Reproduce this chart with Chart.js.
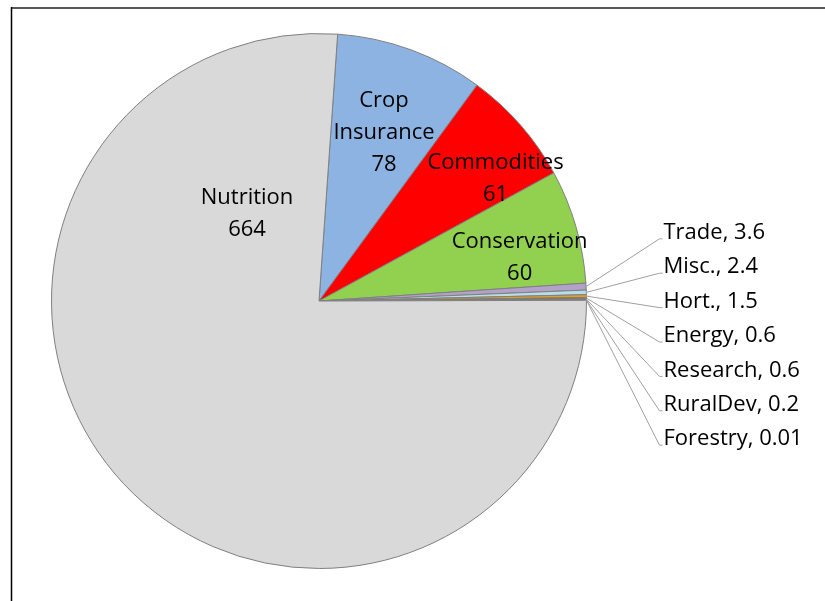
<!DOCTYPE html>
<html>
<head>
<meta charset="utf-8">
<script src="https://cdn.jsdelivr.net/npm/chart.js@4"></script>
<style>
  html, body { margin: 0; padding: 0; background: #fff; }
  #wrap { width: 825px; height: 601px; position: relative; }
</style>
</head>
<body>
<div id="wrap"><canvas id="camembert"></canvas></div>
<script>
// --- donnees ---
const categories = ['Crop Insurance', 'Commodities', 'Conservation', 'Trade', 'Misc.', 'Hort.', 'Energy', 'Research', 'RuralDev', 'Forestry', 'Nutrition'];
const values = [78, 61, 60, 3.6, 2.4, 1.5, 0.6, 0.6, 0.2, 0.01, 664];
const valueLabels = ['78', '61', '60', '3.6', '2.4', '1.5', '0.6', '0.6', '0.2', '0.01', '664'];

const colors = ['#8db3e2', '#ff0000', '#92d050', '#b3a2c7', '#b7dee8', '#e3a21a', '#7f3f00', '#c0504d', '#4f81bd', '#f79646', '#d9d9d9'];

// position of the labels inside the big slices (fraction of radius, from centre)
const insidePos = {
    'Crop Insurance': [0.243, -0.630],
    'Commodities': [0.660, -0.458],
    'Conservation': [0.750, -0.160],
    'Nutrition': [-0.269, -0.328]
};

const FONT = '22px "Open Sans", Lato, sans-serif';

const labelsPlugin = {
    id: 'labelsPlugin',
    afterDraw(chart) {
        const ctx = chart.ctx;
        const arcs = chart.getDatasetMeta(0).data;
        const cx = arcs[0].x, cy = arcs[0].y, r = arcs[0].outerRadius;

        // cadre
        ctx.save();
        ctx.strokeStyle = '#595959';
        ctx.lineWidth = 2;
        ctx.beginPath();
        ctx.moveTo(11, 8);
        ctx.lineTo(chart.width, 8);
        ctx.stroke();
        ctx.strokeStyle = '#000';
        ctx.lineWidth = 1.5;
        ctx.beginPath();
        ctx.moveTo(11.5, 7);
        ctx.lineTo(11.5, chart.height);
        ctx.stroke();

        ctx.font = FONT;
        ctx.fillStyle = '#000';
        ctx.textAlign = 'center';
        ctx.textBaseline = 'middle';

        // big slices
        categories.forEach((name, i) => {
            const pos = insidePos[name];
            if (!pos) return;
            const lines = name === 'Crop Insurance' ? ['Crop', 'Insurance'] : [name];
            lines.push(valueLabels[i]);
            const x = cx + pos[0] * r;
            const y0 = cy + pos[1] * r - (lines.length - 1) * 32 / 2;
            lines.forEach((l, k) => ctx.fillText(l, x, y0 + k * 32));
        });

        // small slices with leader lines
        const small = categories.map((n, i) => i).filter(i => !insidePos[categories[i]]);
        const step = 34.4;
        const lx = cx + r + 77;
        const ly0 = cy + 35 - (small.length - 1) * step / 2;
        ctx.textAlign = 'left';
        small.forEach((i, k) => {
            const a = arcs[i];
            const mid = (a.startAngle + a.endAngle) / 2;
            const sx = cx + Math.cos(mid) * r;
            const sy = cy + Math.sin(mid) * r;
            const ty = ly0 + k * step;
            ctx.strokeStyle = '#a0a0a0';
            ctx.lineWidth = 1;
            ctx.beginPath();
            ctx.moveTo(sx, sy);
            ctx.lineTo(lx - 4, ty + 6);
            ctx.lineTo(lx - 1, ty + 6);
            ctx.stroke();
            ctx.fillText(categories[i] + ', ' + valueLabels[i], lx, ty);
        });
        ctx.restore();
    }
};

new Chart(document.getElementById('camembert'), {
    type: 'pie',
    data: {
        labels: categories,
        datasets: [{
            data: values,
            backgroundColor: colors,
            borderColor: '#7f7f7f',
            borderWidth: 1
        }]
    },
    options: {
        responsive: true,
        maintainAspectRatio: false,
        animation: false,
        rotation: 4,
        layout: { padding: { left: 51, right: 238, top: 33, bottom: 32 } },
        plugins: {
            legend: { display: false },
            tooltip: { enabled: false }
        }
    },
    plugins: [labelsPlugin]
});
</script>
</body>
</html>
